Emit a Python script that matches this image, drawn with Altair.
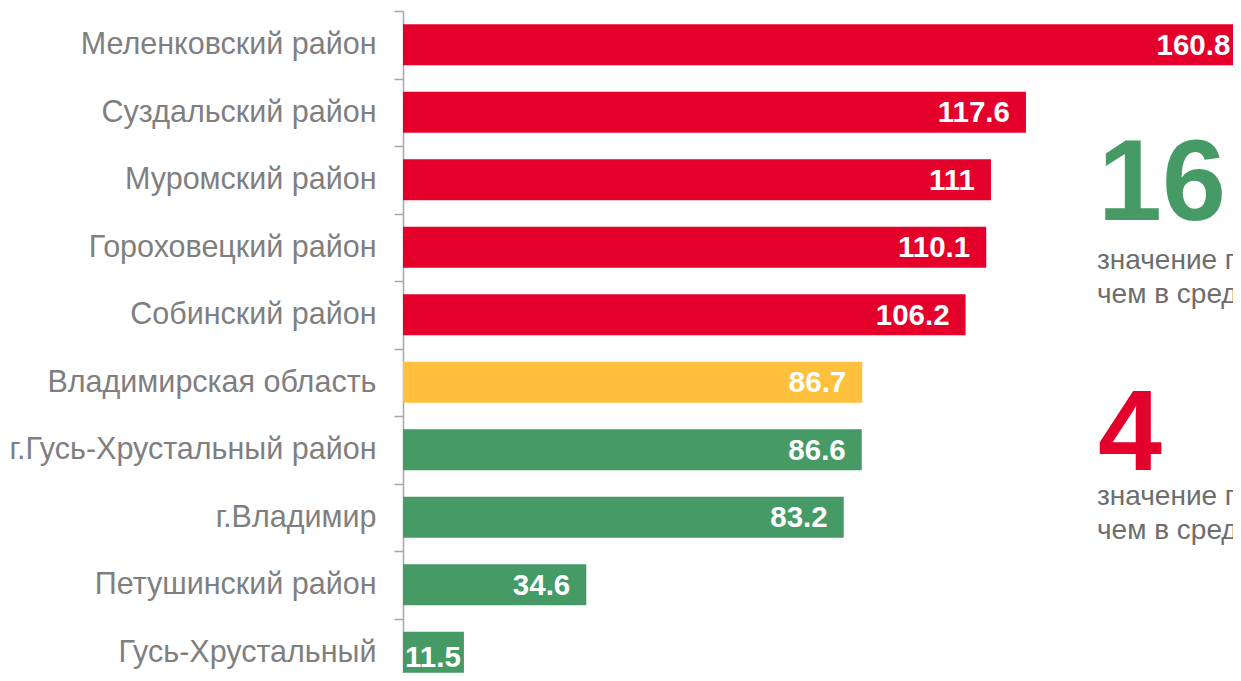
import altair as alt
import pandas as pd

categories = [
    "Меленковский район",
    "Суздальский район",
    "Муромский район",
    "Гороховецкий район",
    "Собинский район",
    "Владимирская область",
    "г.Гусь-Хрустальный район",
    "г.Владимир",
    "Петушинский район",
    "Гусь-Хрустальный",
]
values = [160.8, 117.6, 111, 110.1, 106.2, 86.7, 86.6, 83.2, 34.6, 11.5]
groups = ["выше"] * 5 + ["область"] + ["ниже"] * 4

group_domain = ["выше", "область", "ниже"]
group_colors = ["#E4002B", "#FFC13D", "#459A65"]

big_numbers = ["16", "4"]
big_colors = ["#459A65", "#E4002B"]
note_line1 = ["значение показателя ниже,", "значение показателя выше,"]
note_line2 = ["чем в среднем по области", "чем в среднем по области"]

df = pd.DataFrame({"cat": categories, "val": values, "grp": groups})

FONT = "Liberation Sans"

y_enc = alt.Y(
    "cat:N",
    sort=categories,
    scale=alt.Scale(paddingInner=0, paddingOuter=0, range=[0, 675]),
    axis=alt.Axis(
        title=None,
        tickBand="extent",
        tickSize=9,
        tickColor="#a6a6a6",
        tickWidth=1.5,
        domainColor="#a6a6a6",
        domainWidth=1.5,
        labelFont=FONT,
        labelFontSize=30.5,
        labelColor="#7f7f7f",
        labelPadding=18,
        labelLimit=400,
    ),
)
x_scale = alt.Scale(domain=[0, 169.9], nice=False, range=[0, 900])

bars = alt.Chart(df).mark_bar(size=41).encode(
    y=y_enc,
    x=alt.X("val:Q", scale=x_scale, axis=None),
    color=alt.Color("grp:N", scale=alt.Scale(domain=group_domain, range=group_colors), legend=None),
)

labels_in = alt.Chart(df).transform_filter("datum.val >= 20").transform_calculate(
    lx="min(datum.val, 159.2)"
).mark_text(
    align="right", baseline="middle", dx=-16, dy=1, font=FONT, fontSize=29.5,
    fontWeight="bold", color="white",
).encode(y=alt.Y("cat:N", sort=categories), x=alt.X("lx:Q", scale=x_scale, axis=None),
         text=alt.Text("val:Q", format="~g"))

labels_small = alt.Chart(df).transform_filter("datum.val < 20").mark_text(
    align="left", baseline="middle", dx=2, dy=6, font=FONT, fontSize=29.5,
    fontWeight="bold", color="white",
).encode(y=alt.Y("cat:N", sort=categories), x=alt.datum(0, scale=x_scale, axis=None),
         text=alt.Text("val:Q", format="~g"))

ann = pd.DataFrame({
    "num": big_numbers, "col": big_colors, "l1": note_line1, "l2": note_line2,
    "ny": [209, 459], "y1": [258, 494], "y2": [292, 528],
})

big = alt.Chart(ann).mark_text(
    align="left", baseline="alphabetic", font=FONT, fontSize=115, fontWeight="bold",
).encode(
    x=alt.value(695), y=alt.Y("ny:Q", scale=None), text="num:N",
    color=alt.Color("col:N", scale=None),
)
line1 = alt.Chart(ann).mark_text(
    align="left", baseline="alphabetic", font=FONT, fontSize=28, color="#6d6d6d",
).encode(x=alt.value(694), y=alt.Y("y1:Q", scale=None), text="l1:N")
line2 = alt.Chart(ann).mark_text(
    align="left", baseline="alphabetic", font=FONT, fontSize=28, color="#6d6d6d",
).encode(x=alt.value(694), y=alt.Y("y2:Q", scale=None), text="l2:N")

chart = alt.layer(bars, labels_in, labels_small, big, line1, line2).resolve_scale(
    color="independent", y="shared"
).properties(
    width=830,
    height=662,
    autosize=alt.AutoSizeParams(type="none"),
    padding={"left": 395, "top": 3, "right": 0, "bottom": 0},
).configure_view(stroke=None)

chart.save("out.html", embed_options={"renderer": "svg", "actions": False})
